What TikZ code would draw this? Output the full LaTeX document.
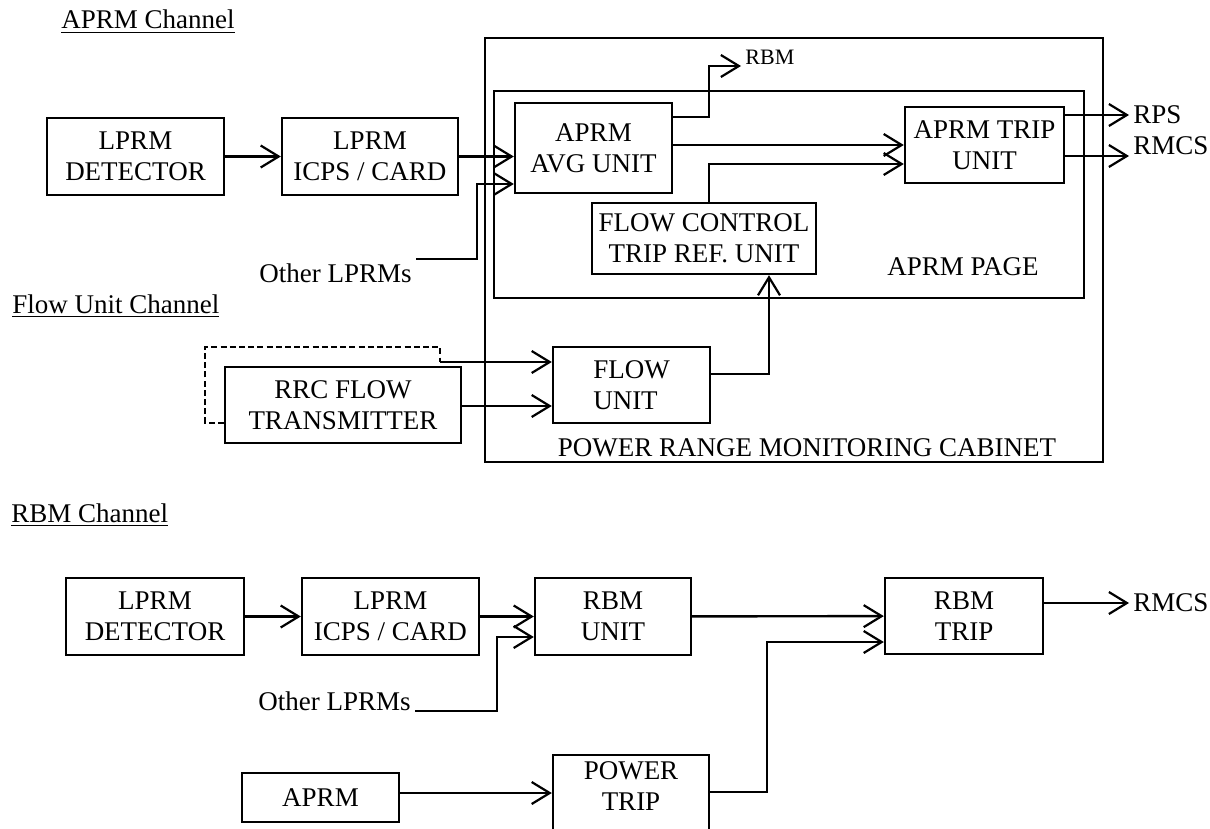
\documentclass[tikz,border=0pt]{standalone}
\usepackage{fontspec}
\setmainfont{Liberation Serif}
\usetikzlibrary{arrows.meta}
\begin{document}
\begin{tikzpicture}[
    x=0.5pt, y=-0.5pt,
    font=\fontsize{13.5}{15.5}\selectfont,
    box/.style={
        draw=black,
        line width=1.2pt,
        align=center,
        inner sep=1pt
    },
    frame/.style={
        draw=black,
        line width=1.3pt,
        inner sep=0pt
    },
    lbl/.style={
        inner sep=2pt
    },
    arr/.style={-{Straight Barb[length=9pt,width=11pt,line width=1.1pt]}, line width=1.2pt, draw=black},
    link/.style={line width=1.1pt, draw=black, dash pattern=on 3pt off 1.6pt}
]
    \useasboundingbox (0,0) rectangle (1210,829);

    \node[lbl, anchor=base west] (chaprm) at (57,29) {\underline{APRM Channel}};
    \node[lbl, anchor=base west] (chflow) at (8,313) {\underline{Flow Unit Channel}};
    \node[lbl, anchor=base west] (chrbm) at (7,522) {\underline{RBM Channel}};

    \node[frame, minimum width=309pt, minimum height=212pt] (cabinet) at (794,250) {};
    \node[frame, minimum width=295pt, minimum height=103.5pt] (page) at (789,194.5) {};
    \node[lbl] (cablbl) at (807,448) {POWER RANGE MONITORING CABINET};
    \node[lbl] (pagelbl) at (963,267) {APRM PAGE};

    \node[box, minimum width=88.5pt, minimum height=38.5pt] (det1) at (135.5,156.5) {LPRM\\DETECTOR};
    \node[box, minimum width=88pt, minimum height=38.5pt] (icps1) at (370,156.5) {LPRM\\ICPS / CARD};
    \node[box, minimum width=78.5pt, minimum height=45pt] (avg) at (593.5,148) {APRM\\AVG UNIT};
    \node[box, minimum width=79.5pt, minimum height=38pt] (trip) at (984.5,145) {APRM TRIP\\UNIT};
    \node[box, minimum width=112pt, minimum height=35.5pt] (fctru) at (704,238.5) {FLOW CONTROL\\TRIP REF. UNIT};
    \node[box, minimum width=78.5pt, minimum height=38pt, align=left] (flow) at (631.5,385) {FLOW\\UNIT};
    \node[box, minimum width=118pt, minimum height=38pt] (rrc) at (343,405) {RRC FLOW\\TRANSMITTER};

    \node[lbl, anchor=base west] (olp1) at (255,282) {Other LPRMs};
    \node[lbl, anchor=base west, font=\fontsize{11}{13}\selectfont] (rbmlbl) at (741,65) {RBM};
    \node[lbl, anchor=west] (rps) at (1129,115) {RPS};
    \node[lbl, anchor=west] (rmcs1) at (1129,146) {RMCS};

    \coordinate (olp1j) at (477,184);
    \coordinate (rbmj) at (709,66);
    \coordinate (rrcsplit) at (440,362);

    \draw[arr] (det1) -- (icps1);
    \draw[arr] (icps1.east) -- (icps1.east -| avg.west);
    \draw[arr] (olp1.north east) -| (olp1j) -- (olp1j -| avg.west);
    \draw[arr] (avg.east |- 0,117) -| (rbmj) -- (rbmj -| rbmlbl.west);
    \draw[arr] (avg.east |- 0,145) -- (trip.west |- 0,145);
    \draw[arr] (709,0 |- fctru.north) |- (trip.west |- 0,164);
    \draw[arr] (trip.east |- rps) -- (rps);
    \draw[arr] (trip.east |- 0,156) -- (rmcs1.west |- 0,156);
    \draw[arr] (flow.east |- 0,374) -| (769,0 |- fctru.south);
    \draw[arr] (rrc.east |- 0,406) -- (flow.west |- 0,406);
    \draw[link] (rrc.west |- 0,423) -| (205,347) -| (rrcsplit);
    \draw[arr] (rrcsplit) -- (flow.west |- rrcsplit);

    \node[box, minimum width=89pt, minimum height=38.5pt] (det2) at (155,616.5) {LPRM\\DETECTOR};
    \node[box, minimum width=88.5pt, minimum height=38.5pt] (icps2) at (390.5,616.5) {LPRM\\ICPS / CARD};
    \node[box, minimum width=78pt, minimum height=38.5pt] (rbmu) at (613,616.5) {RBM\\UNIT};
    \node[box, minimum width=79pt, minimum height=38pt] (rbmt) at (964,616) {RBM\\TRIP};
    \node[box, minimum width=78.5pt, minimum height=24.5pt] (aprm) at (320.5,797.5) {APRM};
    \node[box, minimum width=78pt, anchor=north, inner ysep=3pt, text depth=40pt] (ptrip) at (631,754) {POWER\\TRIP};

    \node[lbl, anchor=base west] (olp2) at (254,710) {Other LPRMs};
    \node[lbl, anchor=west] (rmcs2) at (1129,603) {RMCS};

    \coordinate (olp2j) at (497,637);
    \coordinate (ptj) at (767,642);

    \draw[arr] (det2) -- (icps2);
    \draw[arr] (icps2) -- (rbmu);
    \draw[arr] (olp2.east |- 0,711) -| (olp2j) -- (olp2j -| rbmu.west);
    \draw[arr] (rbmu) -- (rbmt);
    \draw[arr] (aprm.east |- 0,793) -- (ptrip.west |- 0,793);
    \draw[arr] (ptrip.east |- 0,792) -| (ptj) -- (ptj -| rbmt.west);
    \draw[arr] (rbmt.east |- rmcs2) -- (rmcs2);
\end{tikzpicture}
\end{document}
